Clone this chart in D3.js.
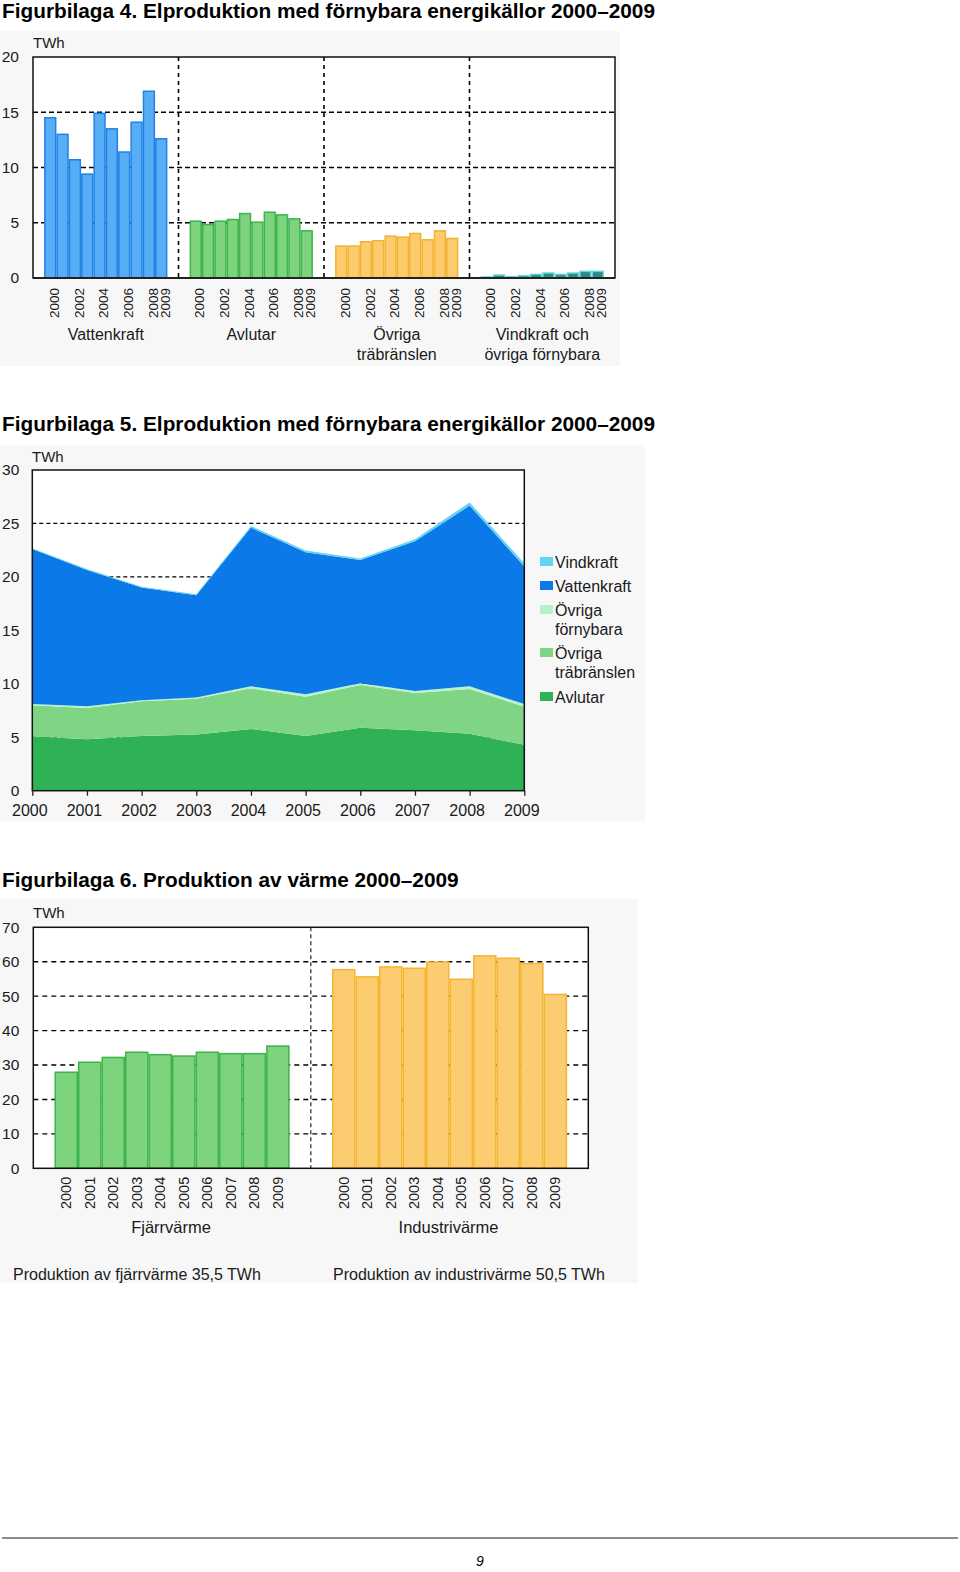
<!DOCTYPE html>
<html><head><meta charset="utf-8">
<script src="https://cdn.jsdelivr.net/npm/d3@7"></script>
<style>
body{margin:0;background:#fff;}
svg{display:block;font-family:"Liberation Sans",Arial,sans-serif;}
</style>
</head><body><script>
// ---------- DATA ----------
const years = [2000,2001,2002,2003,2004,2005,2006,2007,2008,2009];

// Figurbilaga 4
const ch1Groups = ["Vattenkraft","Avlutar","Övriga träbränslen","Vindkraft och övriga förnybara"];
const ch1GroupLabels = [["Vattenkraft"],["Avlutar"],["Övriga","träbränslen"],["Vindkraft och","övriga förnybara"]];
const ch1YearTicks = [2000,2002,2004,2006,2008,2009];
const ch1YTicks = [0,5,10,15,20];
const vattenkraft = [14.5,13.0,10.7,9.4,14.9,13.5,11.4,14.1,16.9,12.6];
const avlutar     = [5.14,4.84,5.14,5.29,5.83,5.05,5.95,5.71,5.35,4.27];
const trabransle  = [2.89,2.89,3.28,3.37,3.79,3.70,4.03,3.46,4.27,3.58];
const vindOvriga  = [0.09,0.27,0.12,0.21,0.33,0.45,0.33,0.45,0.60,0.60];

// Figurbilaga 5
const ch2Keys = ["Avlutar","Övriga träbränslen","Övriga förnybara","Vattenkraft","Vindkraft"];
const ch2Avlutar   = [5.10,4.82,5.12,5.26,5.78,5.12,5.88,5.65,5.32,4.30];
const ch2Trabr     = [2.90,2.92,3.25,3.35,3.80,3.68,4.00,3.48,4.20,3.55];
const ch2OvrForn   = [0.10,0.15,0.10,0.12,0.18,0.22,0.18,0.20,0.25,0.25];
const ch2Vatten    = [14.52,12.76,10.55,9.55,14.85,13.28,11.52,14.00,16.90,12.87];
const ch2Vind      = [0.05,0.08,0.06,0.10,0.15,0.18,0.15,0.20,0.30,0.30];
const ch2YTicks = [0,5,10,15,20,25,30];
const ch2LegendKeys = ["Vindkraft","Vattenkraft","Övriga förnybara","Övriga träbränslen","Avlutar"];
const ch2Legend = [["Vindkraft"],["Vattenkraft"],["Övriga","förnybara"],["Övriga","träbränslen"],["Avlutar"]];

// Figurbilaga 6
const ch3Groups = ["Fjärrvärme","Industrivärme"];
const fjarrvarme    = [27.9,30.8,32.2,33.7,33.0,32.6,33.7,33.3,33.3,35.5];
const industrivarme = [57.7,55.6,58.5,58.1,59.9,54.9,61.7,61.0,59.5,50.5];
const ch3YTicks = [0,10,20,30,40,50,60,70];
const ch3Notes = ["Produktion av fjärrvärme 35,5 TWh","Produktion av industrivärme 50,5 TWh"];

// ---------- SETUP ----------
const svg = d3.select("body").append("svg").attr("width",960).attr("height",1572);
const panelFill = "#f7f7f7";
const txtCol = "#1a1a1a";

function title(y, t){
  svg.append("text").attr("x",2).attr("y",y).attr("font-weight","bold")
    .attr("font-size",20.8).attr("fill","#000").text(t);
}
function yAxis(x, scale, ticks, pad){
  const g = svg.append("g").attr("transform",`translate(${x},0)`)
    .call(d3.axisLeft(scale).tickValues(ticks).tickSize(0).tickPadding(pad));
  g.select(".domain").remove();
  g.attr("font-family",null).attr("font-size",null);
  g.selectAll("text").attr("font-size",15.5).attr("fill",txtCol);
}
function yearAxis(x, y, scale, ticks, fs, yEnd, shift){
  const g = svg.append("g").attr("transform",`translate(${x},${y})`)
    .call(d3.axisBottom(scale).tickValues(ticks).tickSize(0).tickFormat(d3.format("d")));
  g.select(".domain").remove();
  g.attr("font-family",null).attr("font-size",null);
  g.selectAll("text").attr("transform","rotate(-90)").attr("text-anchor","end")
    .attr("x",-yEnd).attr("y",shift).attr("dy","0.35em").attr("font-size",fs).attr("fill",txtCol);
}
function multiText(x, y, lines, lh, anchor, fs){
  const t = svg.append("text").attr("x",x).attr("y",y).attr("text-anchor",anchor)
    .attr("font-size",fs).attr("fill",txtCol);
  lines.forEach((l,i)=>t.append("tspan").attr("x",x).attr("dy",i?lh:0).text(l));
}

// ---------- CHART 1 ----------
title(18,"Figurbilaga 4. Elproduktion med förnybara energikällor 2000–2009");
const c1 = {l:33,r:615,t:57,b:278};
svg.append("rect").attr("x",0).attr("y",31).attr("width",620).attr("height",335).attr("fill",panelFill);
svg.append("rect").attr("x",c1.l).attr("y",c1.t).attr("width",c1.r-c1.l).attr("height",c1.b-c1.t).attr("fill","#fff");
const y1 = d3.scaleLinear().domain([0,20]).range([c1.b,c1.t]);
const g1 = d3.scaleBand().domain(ch1Groups).range([c1.l,c1.r]);
const b1 = d3.scaleBand().domain(years).range([0,g1.bandwidth()]).paddingInner(0).paddingOuter(0.9);
svg.append("g").selectAll("line").data(ch1YTicks.filter(d=>d>0&&d<20)).join("line")
  .attr("x1",c1.l).attr("x2",c1.r).attr("y1",d=>y1(d)).attr("y2",d=>y1(d))
  .attr("stroke","#000").attr("stroke-width",1.6).attr("stroke-dasharray","5,3");
svg.append("g").selectAll("line").data(ch1Groups.slice(1)).join("line")
  .attr("x1",d=>g1(d)).attr("x2",d=>g1(d)).attr("y1",c1.t).attr("y2",c1.b)
  .attr("stroke","#000").attr("stroke-width",1.6).attr("stroke-dasharray","4,4");
const ch1Series = [
  {g:ch1Groups[0], v:vattenkraft, fill:"#58aef6", stroke:"#1f82e4"},
  {g:ch1Groups[1], v:avlutar,     fill:"#7ed37f", stroke:"#3db34b"},
  {g:ch1Groups[2], v:trabransle,  fill:"#fccb6e", stroke:"#f3b230"},
  {g:ch1Groups[3], v:vindOvriga,  fill:"#2b8c84", stroke:"#62d6dc"}
];
ch1Series.forEach(s=>{
  svg.append("g").selectAll("rect").data(years).join("rect")
    .attr("x",(d)=>g1(s.g)+b1(d)+0.75).attr("width",b1.bandwidth()-1.5)
    .attr("y",(d,i)=>y1(s.v[i])).attr("height",(d,i)=>y1(0)-y1(s.v[i]))
    .attr("fill",s.fill).attr("stroke",s.stroke).attr("stroke-width",1.5);
});
svg.append("rect").attr("x",c1.l).attr("y",c1.t).attr("width",c1.r-c1.l).attr("height",c1.b-c1.t)
  .attr("fill","none").attr("stroke","#111").attr("stroke-width",1.5);
svg.append("line").attr("x1",c1.l).attr("x2",c1.r).attr("y1",c1.b).attr("y2",c1.b).attr("stroke","#222").attr("stroke-width",2.2);
yAxis(c1.l, y1, ch1YTicks, 14);
svg.append("text").attr("x",33).attr("y",48).attr("font-size",15).attr("fill",txtCol).text("TWh");
ch1Groups.forEach((g,i)=>{
  const sc = d3.scaleBand().domain(years).range([g1(g),g1(g)+g1.bandwidth()]).paddingInner(0).paddingOuter(0.9);
  yearAxis(0, c1.b, sc, ch1YearTicks, 13.5, 10, 4);
  multiText(g1(g)+g1.bandwidth()/2, 340, ch1GroupLabels[i], 20, "middle", 16);
});

// ---------- CHART 2 ----------
title(431,"Figurbilaga 5. Elproduktion med förnybara energikällor 2000–2009");
const c2 = {l:32.3,r:524.3,t:470,b:790.7};
svg.append("rect").attr("x",0).attr("y",445).attr("width",645).attr("height",376).attr("fill",panelFill);
svg.append("rect").attr("x",c2.l).attr("y",c2.t).attr("width",c2.r-c2.l).attr("height",c2.b-c2.t).attr("fill","#fff");
const x2 = d3.scalePoint().domain(years).range([c2.l,c2.r]);
const y2 = d3.scaleLinear().domain([0,30]).range([c2.b,c2.t]);
svg.append("g").selectAll("line").data(ch2YTicks.filter(d=>d>0&&d<30)).join("line")
  .attr("x1",c2.l).attr("x2",c2.r).attr("y1",d=>y2(d)).attr("y2",d=>y2(d))
  .attr("stroke","#000").attr("stroke-width",1.2).attr("stroke-dasharray","4,3");
const ch2Table = years.map((yr,i)=>({year:yr,
  "Avlutar":ch2Avlutar[i],"Övriga träbränslen":ch2Trabr[i],"Övriga förnybara":ch2OvrForn[i],
  "Vattenkraft":ch2Vatten[i],"Vindkraft":ch2Vind[i]}));
const ch2Colors = {"Avlutar":"#2fb255","Övriga träbränslen":"#7fd584","Övriga förnybara":"#b6f3cb",
  "Vattenkraft":"#0b79e7","Vindkraft":"#62d3f3"};
const stack = d3.stack().keys(ch2Keys)(ch2Table);
const area = d3.area().x(d=>x2(d.data.year)).y0(d=>y2(d[0])).y1(d=>y2(d[1]));
svg.append("g").selectAll("path").data(stack).join("path")
  .attr("d",area).attr("fill",d=>ch2Colors[d.key]);
svg.append("rect").attr("x",c2.l).attr("y",c2.t).attr("width",c2.r-c2.l).attr("height",c2.b-c2.t)
  .attr("fill","none").attr("stroke","#111").attr("stroke-width",1.5);
yAxis(c2.l, y2, ch2YTicks, 13);
svg.append("text").attr("x",32).attr("y",462).attr("font-size",15).attr("fill",txtCol).text("TWh");
{
  const g = svg.append("g").attr("transform",`translate(0,${c2.b})`)
    .call(d3.axisBottom(x2).tickSize(5).tickPadding(9).tickFormat(d3.format("d")));
  g.select(".domain").remove();
  g.attr("font-family",null).attr("font-size",null);
  g.selectAll("line").attr("stroke","#222").attr("stroke-width",1.3);
  g.selectAll("text").attr("font-size",16).attr("fill",txtCol).attr("dx",-3);
}
{
  const lgY = [562,586,610,653,697];
  ch2LegendKeys.forEach((k,i)=>{
    svg.append("rect").attr("x",540).attr("y",lgY[i]-5).attr("width",13).attr("height",9).attr("fill",ch2Colors[k]);
    multiText(555, lgY[i]+5.5, ch2Legend[i], 19.5, "start", 16);
  });
}

// ---------- CHART 3 ----------
title(887,"Figurbilaga 6. Produktion av värme 2000–2009");
const c3 = {l:33.3,r:588.3,t:927.3,b:1168.3};
svg.append("rect").attr("x",0).attr("y",899).attr("width",638).attr("height",384).attr("fill",panelFill);
svg.append("rect").attr("x",c3.l).attr("y",c3.t).attr("width",c3.r-c3.l).attr("height",c3.b-c3.t).attr("fill","#fff");
const y3 = d3.scaleLinear().domain([0,70]).range([c3.b,c3.t]);
const g3 = d3.scaleBand().domain(ch3Groups).range([c3.l,c3.r]);
const b3 = d3.scaleBand().domain(years).range([0,g3.bandwidth()]).paddingInner(0).paddingOuter(0.9);
svg.append("g").selectAll("line").data(ch3YTicks.filter(d=>d>0&&d<70)).join("line")
  .attr("x1",c3.l).attr("x2",c3.r).attr("y1",d=>y3(d)).attr("y2",d=>y3(d))
  .attr("stroke","#000").attr("stroke-width",1.4).attr("stroke-dasharray","5,4");
svg.append("line").attr("x1",g3(ch3Groups[1])).attr("x2",g3(ch3Groups[1])).attr("y1",c3.t).attr("y2",c3.b)
  .attr("stroke","#444").attr("stroke-width",1.4).attr("stroke-dasharray","4,3");
const ch3Series = [
  {g:ch3Groups[0], v:fjarrvarme,    fill:"#7ed37f", stroke:"#3db34b"},
  {g:ch3Groups[1], v:industrivarme, fill:"#fccc70", stroke:"#f4b530"}
];
ch3Series.forEach(s=>{
  svg.append("g").selectAll("rect").data(years).join("rect")
    .attr("x",d=>g3(s.g)+b3(d)+0.75).attr("width",b3.bandwidth()-1.5)
    .attr("y",(d,i)=>y3(s.v[i])).attr("height",(d,i)=>y3(0)-y3(s.v[i]))
    .attr("fill",s.fill).attr("stroke",s.stroke).attr("stroke-width",1.5);
});
svg.append("rect").attr("x",c3.l).attr("y",c3.t).attr("width",c3.r-c3.l).attr("height",c3.b-c3.t)
  .attr("fill","none").attr("stroke","#111").attr("stroke-width",1.5);
yAxis(c3.l, y3, ch3YTicks, 14);
svg.append("text").attr("x",33).attr("y",918).attr("font-size",15).attr("fill",txtCol).text("TWh");
ch3Groups.forEach((g,i)=>{
  const sc = d3.scaleBand().domain(years).range([g3(g),g3(g)+g3.bandwidth()]).paddingInner(0).paddingOuter(0.9);
  yearAxis(0, c3.b, sc, years, 14.5, 8.5, 0);
  multiText(g3(g)+g3.bandwidth()/2-1, 1233, [g], 20, "middle", 16.5);
});
multiText(13, 1280, [ch3Notes[0]], 20, "start", 16);
multiText(333, 1280, [ch3Notes[1]], 20, "start", 16);

// ---------- FOOTER ----------
svg.append("line").attr("x1",2).attr("x2",958).attr("y1",1538).attr("y2",1538).attr("stroke","#8a8a8a").attr("stroke-width",2);
svg.append("text").attr("x",480).attr("y",1566).attr("text-anchor","middle").attr("font-style","italic")
  .attr("font-size",14).attr("fill","#000").text("9");
</script></body></html>
